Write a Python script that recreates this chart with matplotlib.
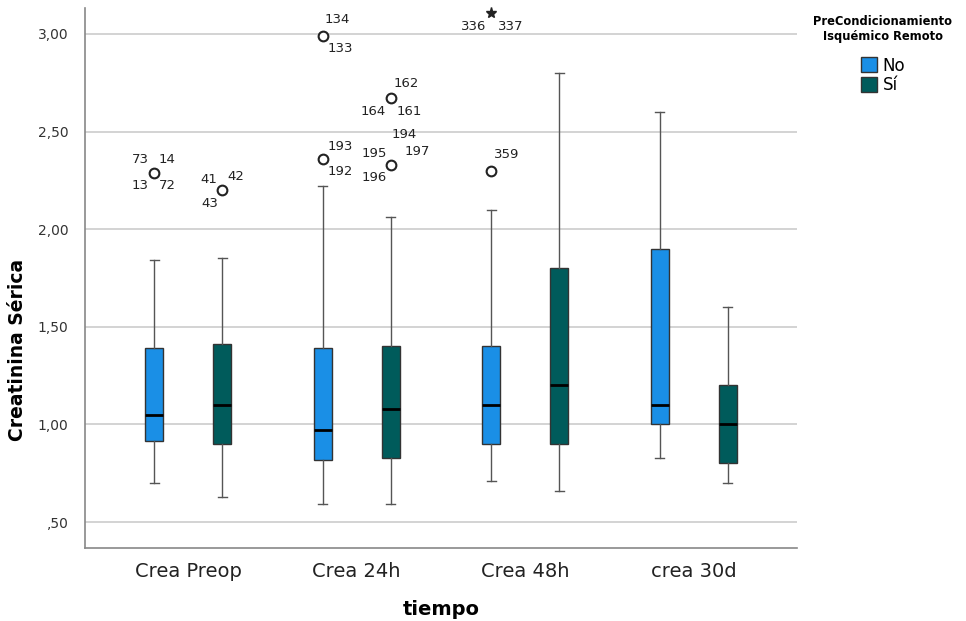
import numpy as np
import matplotlib.pyplot as plt
from matplotlib.patches import Patch

# Data
tiempos = ['Crea Preop', 'Crea 24h', 'Crea 48h', 'crea 30d']
grupos = ['No', 'Sí']
colores = {'No': '#1a8fe6', 'Sí': '#005b5b'}

# five-number summaries per group (whisker low, Q1, median, Q3, whisker high)
no_whislo = [0.70, 0.59, 0.71, 0.83]
no_q1 = [0.915, 0.82, 0.90, 1.00]
no_med = [1.05, 0.97, 1.10, 1.10]
no_q3 = [1.39, 1.39, 1.40, 1.90]
no_whishi = [1.84, 2.22, 2.10, 2.60]

si_whislo = [0.63, 0.59, 0.66, 0.70]
si_q1 = [0.90, 0.83, 0.90, 0.80]
si_med = [1.10, 1.08, 1.20, 1.00]
si_q3 = [1.41, 1.40, 1.80, 1.20]
si_whishi = [1.85, 2.06, 2.80, 1.60]

# outliers: (tiempo index, group, value, marker, [(case label, dx px, dy px)])
outliers = [
    (0, 'No', 2.29, 'o', [('73', -14, 13), ('14', 13, 13), ('13', -14, -13), ('72', 13, -13)]),
    (0, 'Sí', 2.20, 'o', [('41', -13, 11), ('42', 14, 14), ('43', -12, -13)]),
    (1, 'No', 2.99, 'o', [('134', 15, 16), ('133', 18, -13)]),
    (1, 'No', 2.36, 'o', [('193', 18, 12), ('192', 18, -13)]),
    (1, 'Sí', 2.67, 'o', [('162', 15, 15), ('164', -18, -13), ('161', 18, -13)]),
    (1, 'Sí', 2.33, 'o', [('194', 13, 30), ('195', -17, 11), ('197', 26, 13), ('196', -17, -13)]),
    (2, 'No', 3.11, '*', [('336', -18, -14), ('337', 20, -14)]),
    (2, 'No', 2.30, 'o', [('359', 15, 16)]),
]

stats = {
    'No': (no_whislo, no_q1, no_med, no_q3, no_whishi),
    'Sí': (si_whislo, si_q1, si_med, si_q3, si_whishi),
}
offsets = {'No': -0.202, 'Sí': 0.202}

fig = plt.figure(figsize=(9.66, 6.21), dpi=100)
ax = fig.add_axes([0.088, 0.1176, 0.737, 0.8695])

for g in grupos:
    lo, q1, med, q3, hi = stats[g]
    bxstats = [dict(whislo=lo[i], q1=q1[i], med=med[i], q3=q3[i], whishi=hi[i], fliers=[])
               for i in range(len(tiempos))]
    pos = np.arange(len(tiempos)) + offsets[g]
    ax.bxp(bxstats, positions=pos, widths=0.107, patch_artist=True, showfliers=False,
           boxprops=dict(facecolor=colores[g], edgecolor='#333333', linewidth=1),
           medianprops=dict(color='black', linewidth=2),
           whiskerprops=dict(color='#555555', linewidth=1),
           capprops=dict(color='#555555', linewidth=1),
           capwidths=0.055, manage_ticks=False, zorder=3)

for i, g, val, mk, labels in outliers:
    x = i + offsets[g]
    if mk == 'o':
        ax.plot(x, val, 'o', mfc='white', mec='#222222', mew=1.5, ms=7, zorder=4, clip_on=False)
    else:
        ax.plot(x, val, '*', color='#222222', ms=8, zorder=4, clip_on=False)
    for txt, dx, dy in labels:
        ax.annotate(txt, (x, val), xytext=(dx, dy), textcoords='offset pixels',
                    ha='center', va='center', fontsize=9.5, color='#222222')

ax.set_xlim(-0.613, 3.613)
ax.set_ylim(0.367, 3.133)
ax.set_yticks([0.5, 1.0, 1.5, 2.0, 2.5, 3.0])
ax.set_yticklabels([',50', '1,00', '1,50', '2,00', '2,50', '3,00'], fontsize=10, color='#333333')
ax.set_xticks(range(len(tiempos)))
ax.set_xticklabels(tiempos, fontsize=14, color='#222222')
ax.tick_params(axis='y', length=0, pad=12)
ax.tick_params(axis='x', length=0, pad=10)
ax.grid(axis='y', color='#cccccc', linewidth=1.2, zorder=0)
ax.set_axisbelow(True)
for s in ['top', 'right']:
    ax.spines[s].set_visible(False)
for s in ['left', 'bottom']:
    ax.spines[s].set_color('#888888')
    ax.spines[s].set_linewidth(1.2)

ax.set_xlabel('tiempo', fontsize=14, fontweight='bold', labelpad=14)
ax.set_ylabel('Creatinina Sérica', fontsize=13.5, fontweight='bold')
ax.yaxis.set_label_coords(-0.081, 0.367)

handles = [Patch(facecolor=colores[g], edgecolor='#333333', label=g) for g in grupos]
leg = fig.legend(handles=handles, title='PreCondicionamiento\nIsquémico Remoto',
                 loc='upper center', bbox_to_anchor=(0.914, 0.995), frameon=False,
                 fontsize=12, title_fontproperties=dict(weight='bold', size=8.3),
                 handlelength=1.0, handleheight=1.0, handletextpad=0.3, labelspacing=0.1,
                 borderpad=0.2, alignment='center')
leg.get_title().set_multialignment('center')
leg._legend_box.sep = 10

fig.savefig('out.png', dpi=100)
